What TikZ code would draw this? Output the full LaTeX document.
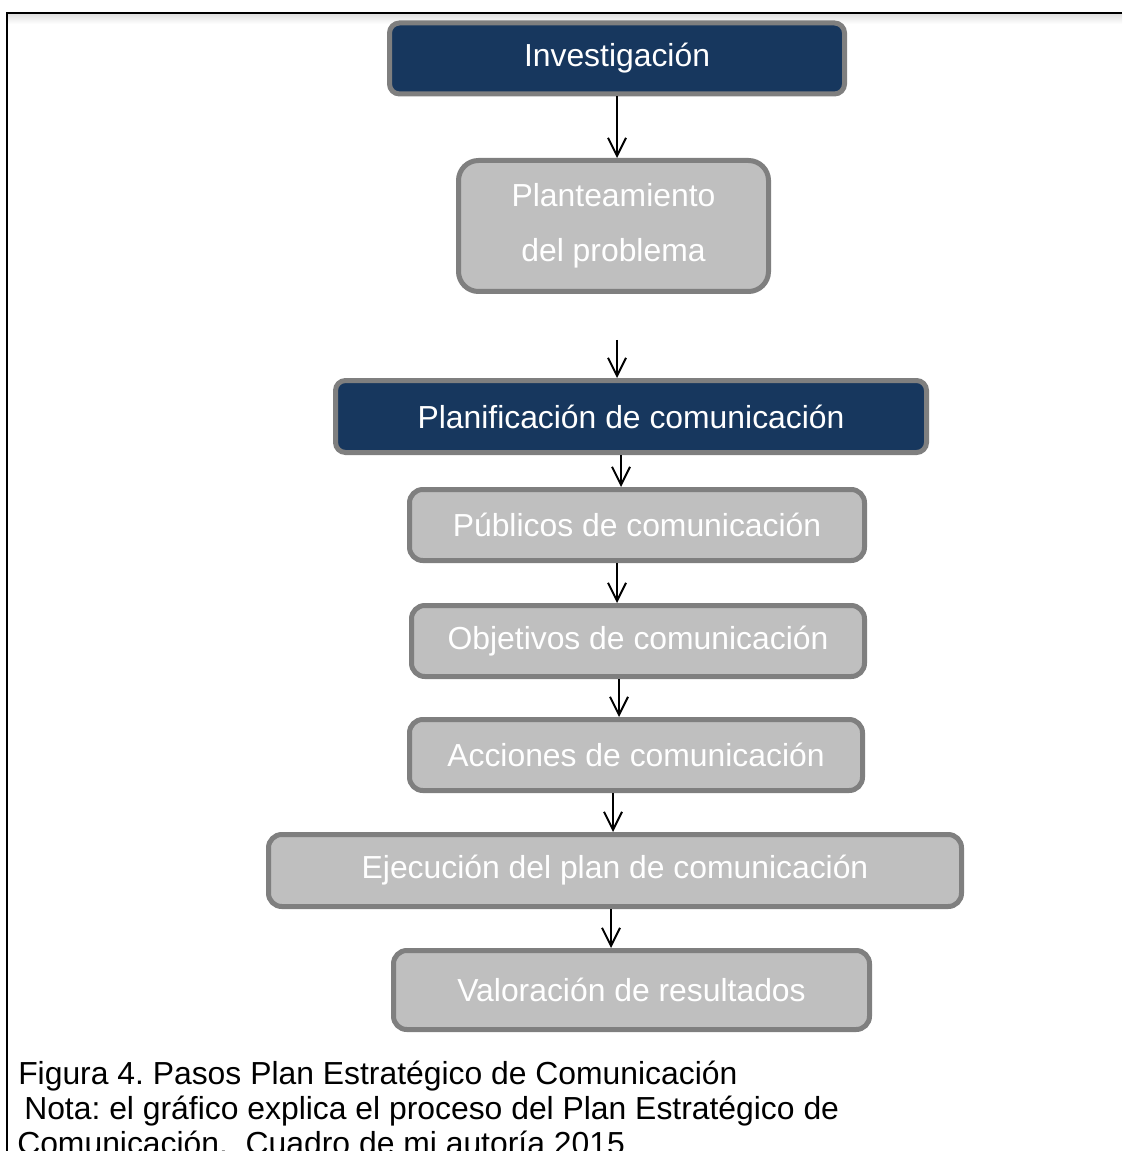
\documentclass[tikz,border=0pt]{standalone}
\usepackage{fontspec}
\setmainfont{Liberation Sans}
\usetikzlibrary{arrows.meta}
\frenchspacing
\definecolor{navy}{HTML}{17375E}
\definecolor{rim}{HTML}{7F7F7F}
\definecolor{pale}{HTML}{BFBFBF}
\tikzset{
  box/.style={draw=rim, line width=3.75pt, text=white, align=center,
    inner sep=0pt, font=\fontsize{23.9}{41}\selectfont},
  darkbox/.style={box, fill=navy, rounded corners=7.5pt},
  lightbox/.style={box, fill=pale, rounded corners=10pt},
  arr/.style={line width=1.5pt, -{Straight Barb[length=13.5pt,width=13.5pt,line width=1.5pt]}},
  caption/.style={anchor=base west, inner sep=0pt, font=\fontsize{23.9}{26}\selectfont}
}
\begin{document}
\begin{tikzpicture}[x=0.75pt,y=-0.75pt]
  \useasboundingbox (0,0) rectangle (1122,1151);
  \clip (0,0) rectangle (1122,1151);

  % frame with a soft shadow under its top edge
  \shade[top color=black!12, bottom color=white] (8,14) rectangle (1122,24);
  \draw[line width=1.5pt] (7,1151) -- (7,13) -- (1122,13);

  % steps
  \node[darkbox, minimum width=341.25pt, minimum height=53.25pt] (inv) at (617,58.5) {Investigación};
  \node[lightbox, rounded corners=15pt, minimum width=232.5pt, minimum height=98.25pt] (prob) at (613.5,226) {Planteamiento\\del problema};
  \node[darkbox, minimum width=443.25pt, minimum height=54pt] (plan) at (631,416.5) {Planificación de comunicación};
  \node[lightbox, minimum width=341.25pt, minimum height=53.25pt] (pub) at (637,525) {Públicos de comunicación};
  \node[lightbox, minimum width=339.75pt, minimum height=53.25pt] (obj) at (638,641) {Objetivos de comunicación};
  \node[lightbox, minimum width=339.75pt, minimum height=53.25pt] (acc) at (636,755) {Acciones de comunicación};
  \node[lightbox, minimum width=519.75pt, minimum height=54pt] (eje) at (615,870.5) {Ejecución del plan de comunicación};
  \node[lightbox, minimum width=357pt, minimum height=59.25pt] (val) at (631.5,990) {Valoración de resultados};

  % connectors
  \coordinate (gap) at (617,340);
  \draw[arr] (inv.south) -- ([xshift=2.625pt]prob.north);
  \draw[arr] (gap) -- (plan.north -| gap);
  \draw[arr] ([xshift=-7.5pt]plan.south) -- ([xshift=-12pt]pub.north);
  \draw[arr] ([xshift=-15pt]pub.south) -- ([xshift=-15.75pt]obj.north);
  \draw[arr] ([xshift=-14.25pt]obj.south) -- ([xshift=-12.75pt]acc.north);
  \draw[arr] ([xshift=-17.25pt]acc.south) -- ([xshift=-1.5pt]eje.north);
  \draw[arr] ([xshift=-3pt]eje.south) -- ([xshift=-15.375pt]val.north);

  % caption
  \node[caption] (cap1) at (18,1084) {Figura 4. Pasos Plan Estratégico de Comunicación};
  \node[caption] (cap2) at (24,1119) {Nota: el gráfico explica el proceso del Plan Estratégico de};
  \node[caption] (cap3) at (17,1154) {Comunicación. \ Cuadro de mi autoría 2015};
\end{tikzpicture}
\end{document}
